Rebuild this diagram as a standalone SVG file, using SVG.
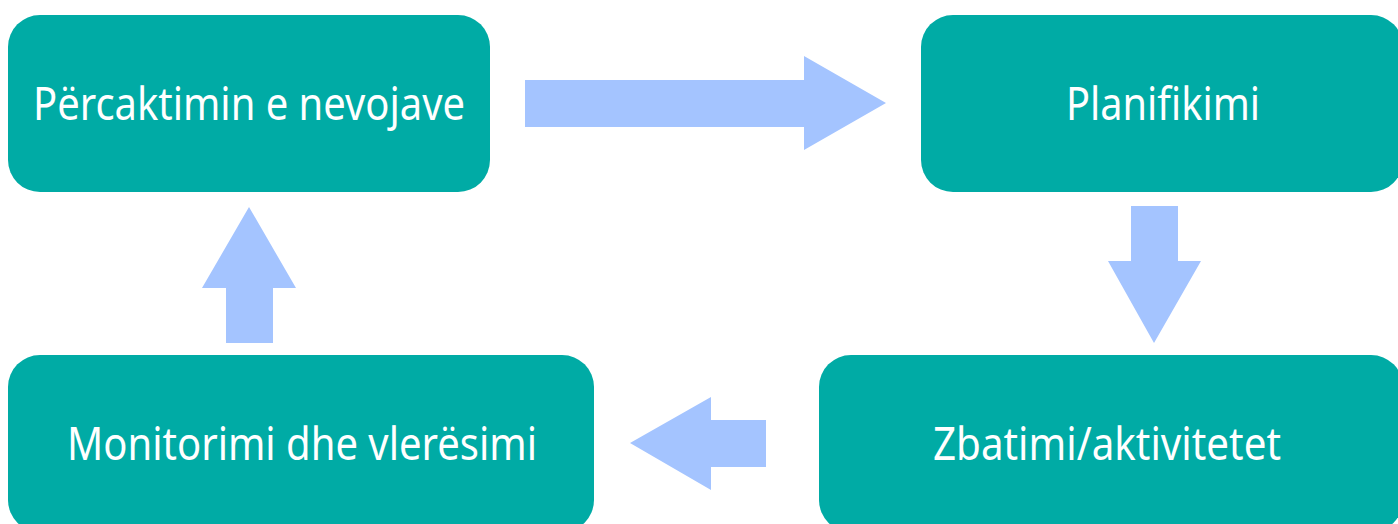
<svg xmlns="http://www.w3.org/2000/svg" width="1398" height="524" viewBox="0 0 1398 524">
<style>
.box{fill:#00ABA5;}
.lbl{fill:#ffffff;font-family:"Noto Sans","Open Sans",sans-serif;font-size:45px;text-anchor:middle;}
.arr{fill:#A4C4FF;}
</style>
<rect width="1398" height="524" fill="#ffffff"/>
<g id="connectors">
<polygon class="arr" points="525,80 804,80 804,56 886,103 804,150 804,127 525,127"/>
<polygon class="arr" points="1131,206 1178,206 1178,261 1201,261 1154,343 1108,261 1131,261"/>
<polygon class="arr" points="766,420 711,420 711,397 630,443 711,490 711,467 766,467"/>
<polygon class="arr" points="226,343 226,288 202,288 249,207 296,288 273,288 273,343"/>
</g>
<g id="node1">
<rect class="box" x="8" y="15" width="482" height="177" rx="32" ry="32"/>
<text class="lbl" x="249" y="120" textLength="432" lengthAdjust="spacingAndGlyphs">Përcaktimin e nevojave</text>
</g>
<g id="node2">
<rect class="box" x="921" y="15" width="482" height="177" rx="32" ry="32"/>
<text class="lbl" x="1163" y="120" textLength="194" lengthAdjust="spacingAndGlyphs">Planifikimi</text>
</g>
<g id="node3">
<rect class="box" x="819" y="355" width="584" height="177" rx="32" ry="32"/>
<text class="lbl" x="1107" y="460" textLength="348" lengthAdjust="spacingAndGlyphs">Zbatimi/aktivitetet</text>
</g>
<g id="node4">
<rect class="box" x="8" y="355" width="586" height="177" rx="32" ry="32"/>
<text class="lbl" x="302" y="460" textLength="470" lengthAdjust="spacingAndGlyphs">Monitorimi dhe vlerësimi</text>
</g>
</svg>
